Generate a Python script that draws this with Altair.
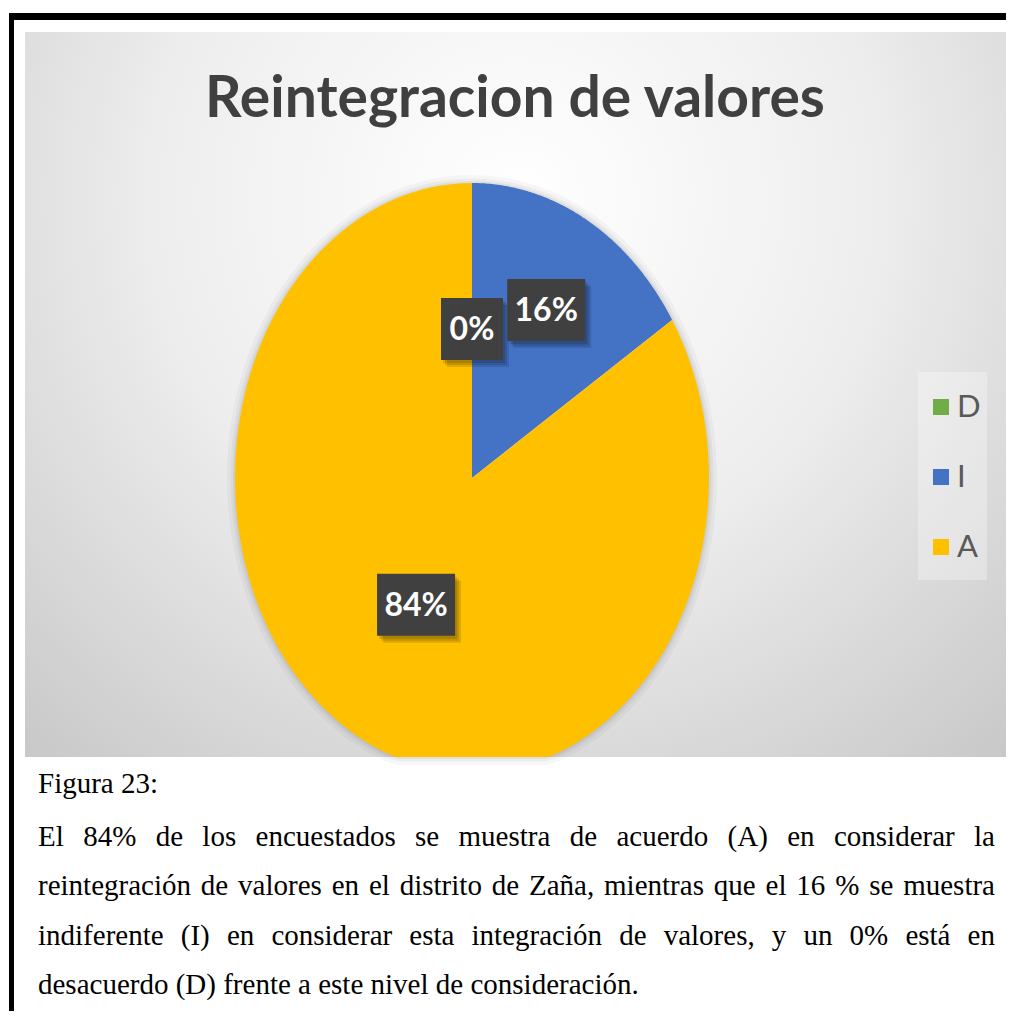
import altair as alt
import pandas as pd

# ---------------- data ----------------
categories = ["D", "I", "A"]
values = [0, 16, 84]
colors = ["#70AD47", "#4472C4", "#FFC000"]
labels = ["0%", "16%", "84%"]

title_text = "Reintegracion de valores"
caption_title = "Figura 23:"
caption_lines = [
    "El 84% de los encuestados se muestra de acuerdo (A) en considerar la",
    "reintegración de valores en el distrito de Zaña, mientras que el 16 % se muestra",
    "indiferente (I) en considerar esta integración de valores, y un 0% está en",
    "desacuerdo (D) frente a este nivel de consideración.",
]
caption_justified = [True, True, True, False]

# ---------------- layout ----------------
W, H = 998, 1003
CX, CY, RX, RY = 464, 470, 237, 295
CLIP = 749
SANS = "Lato, Open Sans, sans-serif"
SERIF = "Liberation Serif, Times New Roman, serif"

xs = alt.Scale(domain=[0, W], nice=False, zero=False)
ys = alt.Scale(domain=[0, H], reverse=True, nice=False, zero=False)
def X(f):
    return alt.X(f, type="quantitative", scale=xs, axis=None)
def Y(f):
    return alt.Y(f, type="quantitative", scale=ys, axis=None)
def X2(f):
    return alt.X2(f)
def Y2(f):
    return alt.Y2(f)

slices = pd.DataFrame({"cat": categories, "value": values,
                       "label": labels, "idx": list(range(len(categories)))})
one = alt.Data(values=[{"k": 0}])

# background with radial gradient
bg = alt.Chart(one).mark_rect(
    fill={"gradient": "radial",
          "stops": [{"offset": 0, "color": "#ffffff"},
                    {"offset": 0.45, "color": "#eeeeee"},
                    {"offset": 1, "color": "#c4c4c4"}],
          "x1": 0.5, "y1": 0.3, "r1": 0,
          "x2": 0.5, "y2": 0.3, "r2": 0.8}
).encode(x=alt.value(17), x2=alt.value(1000), y=alt.value(24), y2=alt.value(749))

# page borders
border_top = alt.Chart(one).mark_rect(color="#000000").encode(
    x=alt.value(2), x2=alt.value(W), y=alt.value(5), y2=alt.value(12))
border_left = alt.Chart(one).mark_rect(color="#000000").encode(
    x=alt.value(1), x2=alt.value(6), y=alt.value(5), y2=alt.value(H))

title = alt.Chart(alt.Data(values=[{"t": title_text}])).mark_text(
    font=SANS, fontWeight="bold", fontSize=57, color="#404040",
    align="center", baseline="alphabetic"
).encode(x=alt.value(507), y=alt.value(109), text="t:N")


def pie_points(chart):
    return (chart
            .transform_calculate(pts="sequence(0, 122)")
            .transform_flatten(["pts"])
            .transform_calculate(a="2*PI*(datum.start + (datum.pts-1)/120*datum.value)/100")
            .transform_calculate(px=f"datum.pts == 0 ? {CX} : {CX} + {RX}*sin(datum.a)")
            .transform_calculate(py=f"datum.pts == 0 ? {CY} : min({CY} - {RY}*cos(datum.a), {CLIP})"))

# soft halo around pie
halo_base = (alt.Chart(slices)
             .transform_aggregate(value="sum(value)")
             .transform_calculate(start="0"))
halo = alt.layer(*[
    pie_points(halo_base).transform_filter("datum.pts > 0").mark_line(
        stroke="#000000", strokeWidth=sw, opacity=op
    ).encode(x=X("px"), y=Y("py"), order=alt.Order("pts:Q"))
    for sw, op in [(16, 0.03), (9, 0.04), (4, 0.05)]
])

pie_base = (alt.Chart(slices)
            .transform_window(cum="sum(value)", sort=[alt.SortField("idx")], frame=[None, 0])
            .transform_calculate(start="datum.cum - datum.value"))
pie = pie_points(pie_base).mark_line(filled=True, strokeWidth=0).encode(
    x=X("px"), y=Y("py"),
    color=alt.Color("cat:N", scale=alt.Scale(domain=categories, range=colors), legend=None),
    detail="cat:N",
    order=alt.Order("pts:Q"),
)

# data labels
lab_base = (alt.Chart(slices)
            .transform_window(cum="sum(value)", sort=[alt.SortField("idx")], frame=[None, 0])
            .transform_calculate(mid="datum.cum - datum.value/2")
            .transform_calculate(ang="2*PI*datum.mid/100")
            .transform_calculate(f="datum.value == 0 ? 0.505 : (datum.value < 50 ? 0.65 : 0.49)")
            .transform_calculate(lx=f"{CX} + datum.f*{RX}*sin(datum.ang)")
            .transform_calculate(ly=f"{CY} - datum.f*{RY}*cos(datum.ang)")
            .transform_calculate(hw="(16*length(datum.label) + 30)/2")
            .transform_calculate(x1="datum.lx - datum.hw", x2="datum.lx + datum.hw",
                                 y1="datum.ly - 31", y2="datum.ly + 31"))
shadows = alt.layer(*[
    lab_base.transform_calculate(sx1=f"datum.x1 + {d}", sx2=f"datum.x2 + {d}",
                                 sy1=f"datum.y1 + {d+1}", sy2=f"datum.y2 + {d+1}")
    .mark_rect(color="#000000", opacity=0.12)
    .encode(x=X("sx1"), x2=X2("sx2"), y=Y("sy1"), y2=Y2("sy2"))
    for d in [2, 4, 6]
])
boxes = lab_base.mark_rect(color="#404040").encode(
    x=X("x1"), x2=X2("x2"), y=Y("y1"), y2=Y2("y2"))
lab_text = lab_base.mark_text(
    font=SANS, fontWeight="bold", fontSize=32, color="#ffffff",
    align="center", baseline="middle", dy=1
).encode(x=X("lx"), y=Y("ly"), text="label:N")

# legend
leg_bg = alt.Chart(one).mark_rect(color="#ffffff", opacity=0.3).encode(
    x=alt.value(910), x2=alt.value(979), y=alt.value(364), y2=alt.value(572))
leg_base = alt.Chart(slices).transform_calculate(gy="399 + 70*datum.idx")
leg_sym = leg_base.mark_square(size=256, opacity=1, strokeWidth=0).encode(
    x=alt.value(933), y=Y("gy"),
    color=alt.Color("cat:N", scale=alt.Scale(domain=categories, range=colors), legend=None))
leg_txt = leg_base.mark_text(font=SANS, fontSize=31, color="#595959",
                             align="left", baseline="middle", dy=1).encode(
    x=alt.value(949), y=Y("gy"), text="cat:N")

# caption text (Times metrics for justification)
TW = {'a': 444, 'b': 500, 'c': 444, 'd': 500, 'e': 444, 'f': 333, 'g': 500, 'h': 500,
      'i': 278, 'j': 278, 'k': 500, 'l': 278, 'm': 778, 'n': 500, 'o': 500, 'p': 500,
      'q': 500, 'r': 333, 's': 389, 't': 278, 'u': 500, 'v': 500, 'w': 722, 'x': 500,
      'y': 500, 'z': 444, 'á': 444, 'ó': 500, 'ñ': 500, 'é': 444, 'í': 278,
      'A': 722, 'D': 722, 'E': 611, 'F': 556, 'I': 333, 'Z': 611,
      '%': 833, '(': 333, ')': 333, ',': 250, '.': 250, ':': 278, ' ': 250}
FS = 29
def tw(s):
    return sum(TW.get(ch, 500) for ch in s) * FS / 1000.0

LEFT, RIGHT = 30, 987
rows = [{"w": caption_title, "x": LEFT, "y": 785}]
base_y = 838
for i, (line, just) in enumerate(zip(caption_lines, caption_justified)):
    words = line.split(" ")
    widths = [tw(w) for w in words]
    if just:
        gap = (RIGHT - LEFT - sum(widths)) / (len(words) - 1)
    else:
        gap = tw(" ")
    x = LEFT
    for w, wd in zip(words, widths):
        rows.append({"w": w, "x": x, "y": base_y + i * 49.3})
        x += wd + gap
caption_df = pd.DataFrame(rows)
caption = alt.Chart(caption_df).mark_text(
    font=SERIF, fontSize=FS, color="#000000", align="left", baseline="alphabetic"
).encode(x=X("x"), y=Y("y"), text="w:N")

chart = alt.layer(
    bg, border_top, border_left, title, halo, pie, shadows, boxes, lab_text,
    leg_bg, leg_sym, leg_txt, caption
).properties(
    width=W, height=H, padding=0, autosize="none", background="#ffffff"
).configure_view(strokeWidth=0)

chart.save("out.html", embed_options={"renderer": "svg", "actions": False})
